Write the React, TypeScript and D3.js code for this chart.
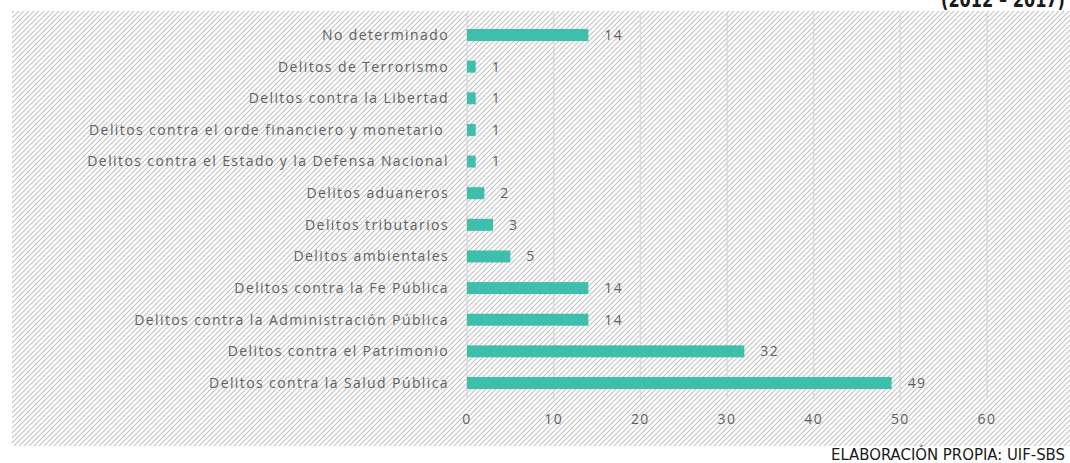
import { scaleLinear, scalePoint } from 'd3'

const categories = [
  'No determinado',
  'Delitos de Terrorismo',
  'Delitos contra la Libertad',
  'Delitos contra el orde financiero y monetario\u00a0',
  'Delitos contra el Estado y la Defensa Nacional',
  'Delitos aduaneros',
  'Delitos tributarios',
  'Delitos ambientales',
  'Delitos contra la Fe Pública',
  'Delitos contra la Administración Pública',
  'Delitos contra el Patrimonio',
  'Delitos contra la Salud Pública',
]
const values = [14, 1, 1, 1, 1, 2, 3, 5, 14, 14, 32, 49]
const ticks = [0, 10, 20, 30, 40, 50, 60]

function App() {
  const width = 1070
  const height = 463
  const barColor = '#3dbfab'
  const textColor = '#5f5f5f'
  const barHeight = 12
  const spacing = 1.4

  const x = scaleLinear().domain([0, 60]).range([467, 987])
  const y = scalePoint<string>().domain(categories).range([35, 383])

  return (
    <svg
      width={width}
      height={height}
      style={{ position: 'absolute', left: 0, top: 0, background: '#fff' }}
    >
      <defs>
        <pattern id="hatch" width={5} height={5} patternUnits="userSpaceOnUse">
          <path d="M-1,1 l2,-2 M0,5 l5,-5 M4,6 l2,-2" stroke="#c2c2c2" strokeWidth={1.1} />
        </pattern>
      </defs>
      <rect x={12} y={11} width={width - 12} height={435} fill="url(#hatch)" />

      <text
        x={1065}
        y={7}
        textAnchor="end"
        fontFamily="'Liberation Sans Narrow', 'DejaVu Sans Condensed', sans-serif"
        fontWeight="bold"
        fontSize={22}
        textLength={124}
        lengthAdjust="spacingAndGlyphs"
        fill="#1a1a1a"
      >
        (2012 – 2017)
      </text>

      {ticks.map((t) => (
        <line key={'g' + t} x1={x(t)} x2={x(t)} y1={13} y2={399} stroke="#d9d9d9" strokeWidth={1.5} />
      ))}

      {categories.map((c, i) => (
        <g key={c} fontFamily="'Open Sans', sans-serif" fontSize={14} fill={textColor} letterSpacing={spacing}>
          <text x={449} y={y(c)!} dy="0.35em" textAnchor="end" style={{ whiteSpace: 'pre' }}>
            {c}
          </text>
          <rect
            x={x(0)}
            y={y(c)! - barHeight / 2}
            width={x(values[i]) - x(0)}
            height={barHeight}
            fill={barColor}
          />
          <text x={x(values[i]) + 16} y={y(c)!} dy="0.35em">
            {values[i]}
          </text>
        </g>
      ))}

      {ticks.map((t) => (
        <text
          key={'t' + t}
          x={x(t)}
          y={419}
          dy="0.35em"
          textAnchor="middle"
          fontFamily="'Open Sans', sans-serif"
          fontSize={14}
          letterSpacing={spacing}
          fill={textColor}
        >
          {t}
        </text>
      ))}

      <text
        x={1065}
        y={460}
        textAnchor="end"
        fontFamily="'Liberation Sans Narrow', 'DejaVu Sans Condensed', sans-serif"
        fontSize={15}
        textLength={234}
        lengthAdjust="spacingAndGlyphs"
        fill="#1a1a1a"
      >
        ELABORACIÓN PROPIA: UIF-SBS
      </text>
    </svg>
  )
}

export default App
